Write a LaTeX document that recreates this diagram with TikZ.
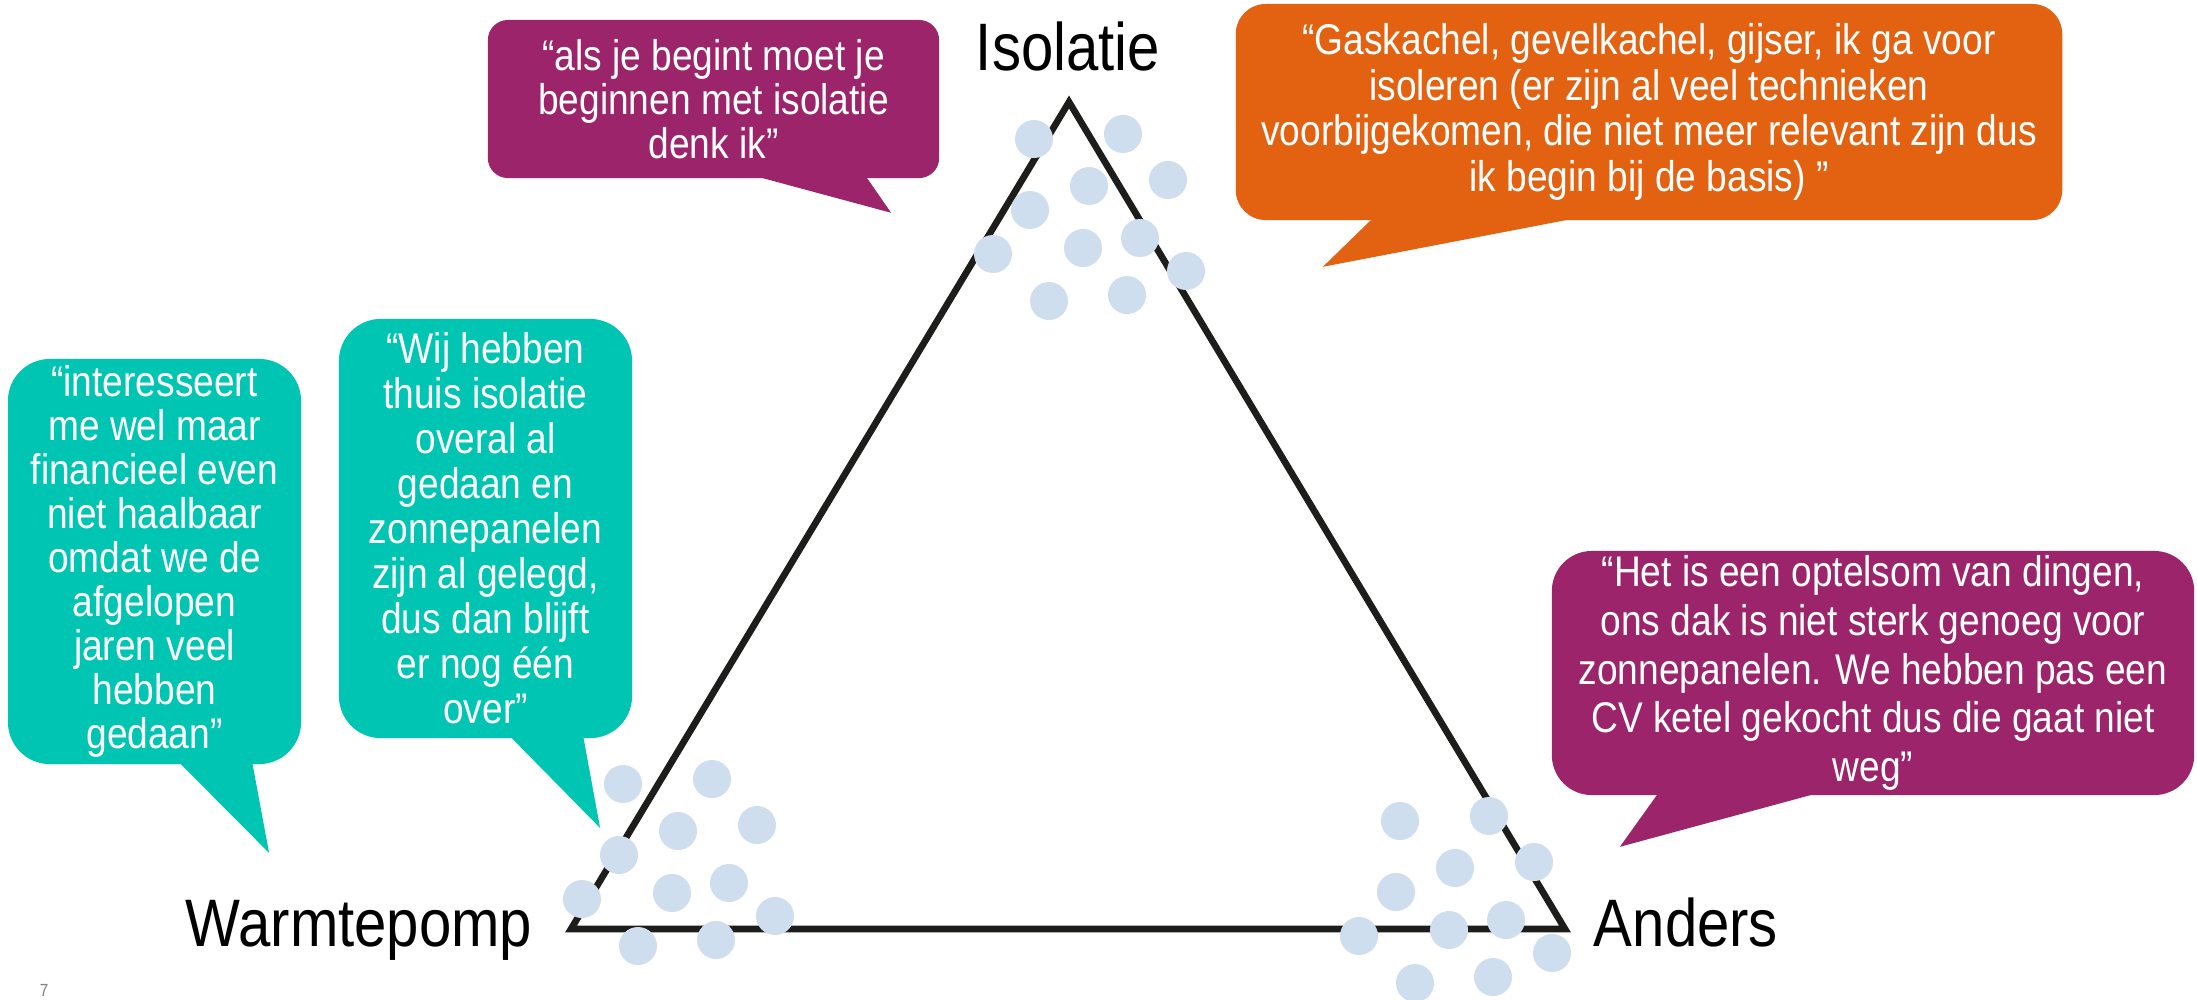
\documentclass[tikz,border=0pt]{standalone}
\usepackage{fontspec}
\setmainfont{Liberation Sans}[FakeStretch=0.865]
\usepackage{tikz}

\definecolor{qpurple}{RGB}{155,36,106}
\definecolor{qorange}{RGB}{227,98,17}
\definecolor{qteal}{RGB}{0,197,178}
\definecolor{dotblue}{RGB}{207,222,239}
\definecolor{lineblack}{RGB}{29,29,27}

\begin{document}
\begin{tikzpicture}[x=0.01cm, y=-0.01cm,
  bubble/.style = {inner sep=0pt, align=center, text=white, font=\fontsize{12.2}{#1}\selectfont},
  corner/.style = {font=\fontsize{19.1}{22}\selectfont, anchor=base},
  dot/.style = {fill=dotblue}]
\path[use as bounding box, fill=white] (0,0) rectangle (2197,999);

\coordinate (top) at (1069,102);
\coordinate (left) at (571,929);
\coordinate (right) at (1565,929);
\draw[lineblack, line width=1.9pt, line join=miter] (top) -- (right) -- (left) -- cycle;

\foreach \cx/\cy in {1034/139, 623/784, 1400/821}
  \foreach \dx/\dy in {0/0, 89/-5, 55/47, 134/41, -4/71, -41/115, 49/109, 106/99, 152/132, 15/162, 93/156}
    \fill[dot] ({\cx+\dx},{\cy+\dy}) circle[radius=0.19cm];

\node[corner] (iso) at (1068,70) {Isolatie};
\node[corner] (wp) at (359,946) {Warmtepomp};
\node[corner] (and) at (1686,946) {Anders};

\node[bubble=12.5, fill=qpurple, rounded corners=0.2cm, minimum width=4.51cm, minimum height=1.58cm] (q1) at (713.5,99)
  {“als je begint moet je\\beginnen met isolatie\\denk ik”};
\fill[qpurple] ([xshift=0.385cm, yshift=1pt]q1.south) -- ([xshift=1.775cm, yshift=-0.34cm]q1.south) -- ([xshift=1.515cm, yshift=1pt]q1.south) -- cycle;

\node[bubble=13, fill=qorange, rounded corners=0.3cm, minimum width=8.26cm, minimum height=2.16cm] (q2) at (1649,112)
  {“Gaskachel, gevelkachel, gijser, ik ga voor\\isoleren (er zijn al veel technieken\\voorbijgekomen, die niet meer relevant zijn dus\\ik begin bij de basis) ”};
\fill[qorange] ([xshift=-2.75cm, yshift=1pt]q2.south) -- ([xshift=-3.26cm, yshift=-0.46cm]q2.south) -- ([xshift=-0.68cm, yshift=1pt]q2.south) -- cycle;

\node[bubble=12.5, fill=qteal, rounded corners=0.42cm, minimum width=2.93cm, minimum height=4.05cm] (q3) at (154.5,561.5)
  {“interesseert\\me wel maar\\financieel even\\niet haalbaar\\omdat we de\\afgelopen\\jaren veel\\hebben\\gedaan”};
\fill[qteal] ([xshift=0.235cm, yshift=1pt]q3.south) -- ([xshift=1.145cm, yshift=-0.88cm]q3.south) -- ([xshift=0.975cm, yshift=1pt]q3.south) -- cycle;

\node[bubble=12.8, fill=qteal, rounded corners=0.42cm, minimum width=2.93cm, minimum height=4.19cm] (q4) at (485.5,528.5)
  {“Wij hebben\\thuis isolatie\\overal al\\gedaan en\\zonnepanelen\\zijn al gelegd,\\dus dan blijft\\er nog één\\over”};
\fill[qteal] ([xshift=0.235cm, yshift=1pt]q4.south) -- ([xshift=1.145cm, yshift=-0.89cm]q4.south) -- ([xshift=0.975cm, yshift=1pt]q4.south) -- cycle;

\node[bubble=13.9, fill=qpurple, rounded corners=0.4cm, minimum width=6.42cm, minimum height=2.44cm] (q5) at (1873,673)
  {“Het is een optelsom van dingen,\\ons dak is niet sterk genoeg voor\\zonnepanelen. We hebben pas een\\CV ketel gekocht dus die gaat niet\\weg”};
\fill[qpurple] ([xshift=-2.14cm, yshift=1pt]q5.south) -- ([xshift=-2.53cm, yshift=-0.51cm]q5.south) -- ([xshift=-0.52cm, yshift=1pt]q5.south) -- cycle;

\node[gray, inner sep=0pt, font=\fontsize{5}{6}\selectfont, anchor=south] (page) at (44,997) {7};
\end{tikzpicture}
\end{document}
